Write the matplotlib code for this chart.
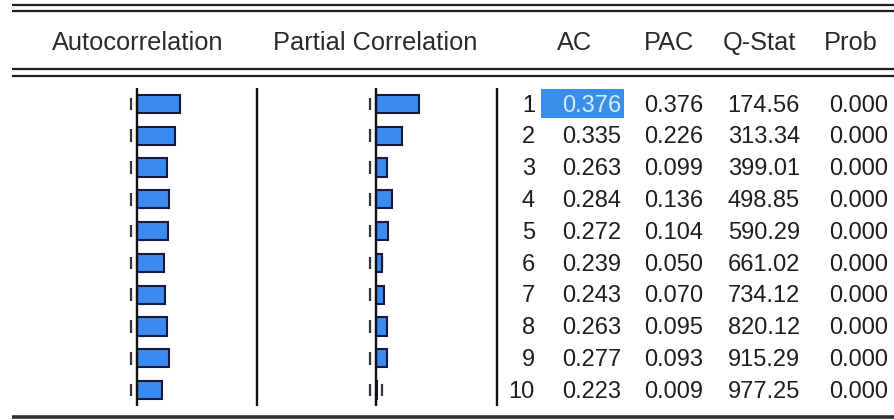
import numpy as np
import matplotlib
matplotlib.use("Agg")
import matplotlib.pyplot as plt
from matplotlib.patches import Rectangle

plt.rcParams['font.family'] = ['Liberation Sans', 'DejaVu Sans']

# correlogram values
lags = [1, 2, 3, 4, 5, 6, 7, 8, 9, 10]
ac = [0.376, 0.335, 0.263, 0.284, 0.272, 0.239, 0.243, 0.263, 0.277, 0.223]
pac = [0.376, 0.226, 0.099, 0.136, 0.104, 0.050, 0.070, 0.095, 0.093, 0.009]
qstat = [174.56, 313.34, 399.01, 498.85, 590.29, 661.02, 734.12, 820.12, 915.29, 977.25]
prob = [0.000] * 10
band = 0.057  # approx 2/sqrt(T)

headers = ["Autocorrelation", "Partial Correlation", "AC", "PAC", "Q-Stat", "Prob"]

W, H = 894, 420
fig = plt.figure(figsize=(W / 100, H / 100), dpi=100)
fig.patch.set_facecolor("white")

txt_col = "#1e1e1e"
bar_col = "#3a8af0"
edge_col = "#1a1a38"
fs = 17

# background axes in pixel units for rules and headers
bg = fig.add_axes([0, 0, 1, 1])
bg.set_xlim(0, W)
bg.set_ylim(H, 0)
bg.axis("off")
for y in [5, 11, 69, 76]:
    bg.hlines(y, 12, W, color="#1e1e1e", lw=1.6)
bg.hlines(417, 12, W, color="#333333", lw=2.6)
hdr_x = [137.5, 375, 575, 669, 760, 851]
for h, x in zip(headers, hdr_x):
    bg.text(x, 50, h, ha="center", va="baseline", fontsize=18.3, color="#2a2a2a")

top, bot = 88, 406
rect_y = (H - bot) / H
rect_h = (bot - top) / H

# table area: x in pixels, y in rows
tab = fig.add_axes([0, rect_y, 1, rect_h])
tab.set_xlim(0, W)
tab.set_ylim(10.5, 0.5)
tab.axis("off")
for x in [257, 497]:
    tab.vlines(x, 0.5, 10.5, color="#111111", lw=1.7)
tab.add_patch(Rectangle((541, 0.52), 83, 0.93, color="#3a8fe8", lw=0))
for i, k in enumerate(lags):
    yb = k + 0.24
    tab.text(535, yb, str(k), ha="right", va="baseline", fontsize=fs, color=txt_col)
    tab.text(621, yb, "%.3f" % ac[i], ha="right", va="baseline", fontsize=fs,
             color="#d6ecff" if i == 0 else txt_col)
    tab.text(703, yb, "%.3f" % pac[i], ha="right", va="baseline", fontsize=fs, color=txt_col)
    tab.text(800, yb, "%.2f" % qstat[i], ha="right", va="baseline", fontsize=fs, color=txt_col)
    tab.text(888, yb, "%.3f" % prob[i], ha="right", va="baseline", fontsize=fs, color=txt_col)

# bar panels, 114 px per unit correlation
scale = 114
for cx, vals in [(137, ac), (376, pac)]:
    ax = fig.add_axes([(cx - scale) / W, rect_y, 2 * scale / W, rect_h])
    ax.set_xlim(-1, 1)
    ax.set_ylim(10.5, 0.5)
    ax.axis("off")
    ax.patch.set_alpha(0)
    for k in lags:
        ax.vlines([-band, band], k - 0.2, k + 0.2, color="#333333", lw=1.6, zorder=1)
    ax.barh(lags, vals, height=0.57, color=bar_col, edgecolor=edge_col, lw=1.5, zorder=2)
    ax.vlines(0, 0.5, 10.5, color="#111111", lw=1.7, zorder=3)

fig.savefig("out.png", dpi=100, facecolor="white")
